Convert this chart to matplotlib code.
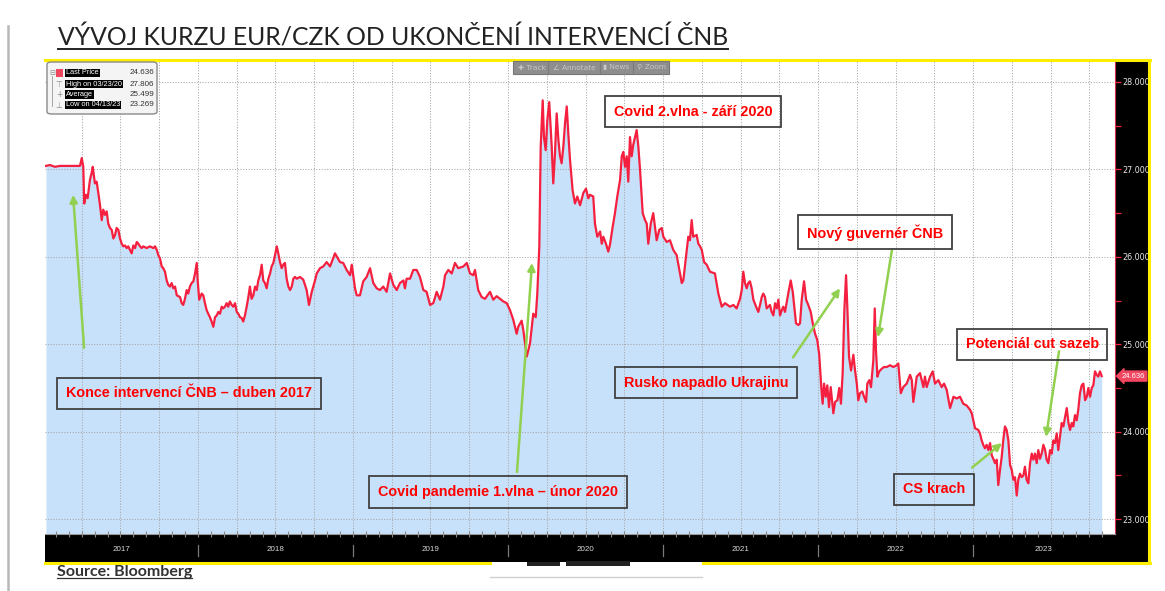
import matplotlib
matplotlib.use("Agg")
import matplotlib.pyplot as plt
import matplotlib.transforms as mtransforms
from matplotlib.patches import Rectangle, FancyBboxPatch
from matplotlib.lines import Line2D

# EUR/CZK, (decimal year, rate)
EURCZK_2017 = [
    (2017.019, 27.04), (2017.045, 27.05), (2017.077, 27.03), (2017.110, 27.04), (2017.174, 27.04),
    (2017.239, 27.04), (2017.250, 27.13), (2017.260, 27.03), (2017.266, 26.61), (2017.277, 26.71),
    (2017.288, 26.67), (2017.303, 26.88), (2017.314, 26.96), (2017.321, 27.03), (2017.329, 26.92),
    (2017.335, 26.84), (2017.346, 26.86), (2017.357, 26.73), (2017.368, 26.59), (2017.379, 26.42),
    (2017.389, 26.54), (2017.400, 26.48), (2017.411, 26.52), (2017.421, 26.38), (2017.432, 26.33),
    (2017.443, 26.31), (2017.454, 26.21), (2017.465, 26.25), (2017.475, 26.33), (2017.486, 26.31),
    (2017.497, 26.21), (2017.508, 26.15), (2017.518, 26.12), (2017.529, 26.13), (2017.540, 26.10),
    (2017.550, 26.12), (2017.561, 26.08), (2017.572, 26.04), (2017.583, 26.13), (2017.594, 26.10),
    (2017.605, 26.17), (2017.615, 26.15), (2017.626, 26.12), (2017.637, 26.10), (2017.647, 26.12),
    (2017.658, 26.11), (2017.669, 26.10), (2017.690, 26.12), (2017.712, 26.10), (2017.723, 26.12),
    (2017.734, 26.08), (2017.744, 26.02), (2017.755, 25.98), (2017.766, 25.89), (2017.776, 25.87),
    (2017.787, 25.83), (2017.798, 25.73), (2017.808, 25.68), (2017.819, 25.66), (2017.830, 25.70),
    (2017.841, 25.64), (2017.852, 25.66), (2017.863, 25.56), (2017.884, 25.54), (2017.895, 25.47),
    (2017.905, 25.45), (2017.916, 25.52), (2017.927, 25.62), (2017.937, 25.58), (2017.948, 25.66),
    (2017.959, 25.70), (2017.970, 25.72), (2017.981, 25.81), (2017.992, 25.93), (2017.998, 25.73),
]
EURCZK_2018 = [
    (2018.008, 25.51), (2018.024, 25.58), (2018.034, 25.56), (2018.045, 25.47), (2018.056, 25.39),
    (2018.066, 25.35), (2018.077, 25.31), (2018.088, 25.26), (2018.099, 25.20), (2018.110, 25.31),
    (2018.121, 25.33), (2018.131, 25.37), (2018.142, 25.35), (2018.153, 25.43), (2018.163, 25.41),
    (2018.174, 25.43), (2018.185, 25.47), (2018.195, 25.43), (2018.206, 25.49), (2018.217, 25.45),
    (2018.228, 25.43), (2018.239, 25.47), (2018.250, 25.37), (2018.260, 25.35), (2018.271, 25.31),
    (2018.282, 25.30), (2018.292, 25.26), (2018.303, 25.33), (2018.314, 25.43), (2018.325, 25.54),
    (2018.335, 25.66), (2018.346, 25.52), (2018.357, 25.56), (2018.368, 25.66), (2018.379, 25.62),
    (2018.389, 25.73), (2018.400, 25.79), (2018.411, 25.91), (2018.421, 25.73), (2018.432, 25.70),
    (2018.443, 25.64), (2018.454, 25.75), (2018.465, 25.81), (2018.475, 25.89), (2018.486, 25.93),
    (2018.497, 26.02), (2018.508, 26.12), (2018.518, 26.04), (2018.529, 25.94), (2018.540, 25.87),
    (2018.550, 25.91), (2018.561, 25.93), (2018.572, 25.75), (2018.583, 25.66), (2018.594, 25.62),
    (2018.605, 25.66), (2018.615, 25.75), (2018.626, 25.77), (2018.637, 25.75), (2018.647, 25.76),
    (2018.658, 25.77), (2018.679, 25.74), (2018.701, 25.62), (2018.716, 25.45), (2018.734, 25.60),
    (2018.755, 25.73), (2018.766, 25.81), (2018.787, 25.87), (2018.808, 25.89), (2018.830, 25.94),
    (2018.852, 25.89), (2018.884, 26.04), (2018.916, 25.94), (2018.937, 25.93), (2018.959, 25.85),
    (2018.981, 25.79), (2018.992, 25.91),
]
EURCZK_2019 = [
    (2019.013, 25.64), (2019.024, 25.56), (2019.045, 25.56), (2019.066, 25.72), (2019.088, 25.77),
    (2019.110, 25.87), (2019.131, 25.70), (2019.153, 25.64), (2019.174, 25.62), (2019.195, 25.66),
    (2019.217, 25.60), (2019.239, 25.81), (2019.260, 25.68), (2019.282, 25.62), (2019.303, 25.70),
    (2019.325, 25.73), (2019.335, 25.64), (2019.346, 25.75), (2019.368, 25.75), (2019.389, 25.85),
    (2019.411, 25.85), (2019.432, 25.77), (2019.454, 25.62), (2019.475, 25.60), (2019.497, 25.45),
    (2019.518, 25.47), (2019.540, 25.60), (2019.561, 25.51), (2019.583, 25.66), (2019.594, 25.79),
    (2019.615, 25.85), (2019.637, 25.81), (2019.658, 25.93), (2019.679, 25.87), (2019.712, 25.89),
    (2019.734, 25.93), (2019.755, 25.81), (2019.776, 25.79), (2019.787, 25.85), (2019.808, 25.62),
    (2019.830, 25.54), (2019.852, 25.52), (2019.884, 25.60), (2019.905, 25.51), (2019.927, 25.55),
    (2019.948, 25.52), (2019.970, 25.49), (2019.992, 25.47),
]
EURCZK_2020 = [
    (2020.013, 25.39), (2020.034, 25.28), (2020.056, 25.12), (2020.066, 25.20), (2020.088, 25.27),
    (2020.099, 25.16), (2020.121, 24.86), (2020.142, 25.01), (2020.163, 25.35), (2020.179, 25.31),
    (2020.189, 25.58), (2020.202, 26.12), (2020.211, 27.26), (2020.224, 27.79), (2020.232, 27.37),
    (2020.243, 27.22), (2020.254, 27.57), (2020.266, 27.77), (2020.282, 27.26), (2020.292, 26.84),
    (2020.303, 27.18), (2020.314, 27.64), (2020.325, 27.34), (2020.335, 27.16), (2020.346, 27.07),
    (2020.357, 27.26), (2020.368, 27.53), (2020.379, 27.72), (2020.389, 27.41), (2020.400, 27.11),
    (2020.417, 26.76), (2020.432, 26.61), (2020.447, 26.69), (2020.465, 26.59), (2020.486, 26.73),
    (2020.503, 26.78), (2020.518, 26.67), (2020.529, 26.71), (2020.550, 26.69), (2020.561, 26.38),
    (2020.576, 26.23), (2020.594, 26.29), (2020.605, 26.15), (2020.615, 26.23), (2020.632, 26.15),
    (2020.647, 26.06), (2020.658, 26.14), (2020.675, 26.34), (2020.690, 26.50), (2020.705, 26.69),
    (2020.723, 26.88), (2020.734, 27.15), (2020.744, 27.20), (2020.755, 27.03), (2020.766, 27.15),
    (2020.776, 26.86), (2020.787, 27.37), (2020.798, 27.15), (2020.808, 27.28), (2020.830, 27.45),
    (2020.841, 27.26), (2020.852, 26.99), (2020.869, 26.50), (2020.884, 26.42), (2020.895, 26.38),
    (2020.905, 26.15), (2020.921, 26.38), (2020.937, 26.50), (2020.948, 26.34), (2020.959, 26.19),
    (2020.976, 26.31), (2020.992, 26.33),
]
EURCZK_2021 = [
    (2021.002, 26.23), (2021.024, 26.17), (2021.045, 26.19), (2021.066, 26.08), (2021.088, 26.02),
    (2021.110, 25.81), (2021.121, 25.70), (2021.131, 25.73), (2021.148, 26.00), (2021.163, 26.23),
    (2021.174, 26.19), (2021.185, 26.42), (2021.195, 26.23), (2021.217, 26.25), (2021.228, 26.15),
    (2021.239, 26.12), (2021.250, 26.08), (2021.265, 25.94), (2021.282, 25.91), (2021.303, 25.83),
    (2021.335, 25.81), (2021.357, 25.58), (2021.379, 25.43), (2021.400, 25.47), (2021.432, 25.43),
    (2021.454, 25.45), (2021.475, 25.41), (2021.497, 25.52), (2021.508, 25.62), (2021.518, 25.83),
    (2021.529, 25.70), (2021.540, 25.64), (2021.550, 25.70), (2021.561, 25.72), (2021.572, 25.64),
    (2021.583, 25.51), (2021.605, 25.41), (2021.615, 25.37), (2021.626, 25.45), (2021.637, 25.54),
    (2021.647, 25.58), (2021.658, 25.54), (2021.669, 25.41), (2021.690, 25.45), (2021.701, 25.37),
    (2021.712, 25.33), (2021.723, 25.47), (2021.734, 25.41), (2021.744, 25.51), (2021.755, 25.33),
    (2021.766, 25.39), (2021.776, 25.43), (2021.787, 25.37), (2021.808, 25.58), (2021.824, 25.73),
    (2021.837, 25.60), (2021.847, 25.43), (2021.858, 25.24), (2021.873, 25.22), (2021.884, 25.24),
    (2021.895, 25.51), (2021.910, 25.72), (2021.923, 25.51), (2021.937, 25.45), (2021.953, 25.37),
    (2021.966, 25.24), (2021.981, 25.12), (2021.995, 25.05),
]
EURCZK_2022 = [
    (2022.008, 24.88), (2022.021, 24.51), (2022.030, 24.32), (2022.039, 24.55), (2022.050, 24.40),
    (2022.060, 24.53), (2022.071, 24.28), (2022.082, 24.51), (2022.099, 24.21), (2022.110, 24.34),
    (2022.125, 24.36), (2022.137, 24.50), (2022.148, 24.32), (2022.159, 24.67), (2022.170, 25.39),
    (2022.181, 25.79), (2022.189, 25.43), (2022.200, 24.86), (2022.213, 24.70), (2022.228, 24.88),
    (2022.239, 24.70), (2022.250, 24.55), (2022.260, 24.36), (2022.271, 24.44), (2022.286, 24.46),
    (2022.297, 24.40), (2022.310, 24.34), (2022.318, 24.55), (2022.331, 24.59), (2022.342, 24.51),
    (2022.357, 24.82), (2022.366, 25.41), (2022.374, 24.93), (2022.383, 24.63), (2022.395, 24.69),
    (2022.411, 24.72), (2022.426, 24.74), (2022.443, 24.74), (2022.465, 24.76), (2022.486, 24.74),
    (2022.508, 24.76), (2022.518, 24.78), (2022.534, 24.44), (2022.550, 24.51), (2022.572, 24.55),
    (2022.594, 24.65), (2022.605, 24.59), (2022.615, 24.34), (2022.626, 24.48), (2022.637, 24.63),
    (2022.658, 24.67), (2022.680, 24.51), (2022.690, 24.63), (2022.701, 24.51), (2022.723, 24.63),
    (2022.740, 24.69), (2022.755, 24.55), (2022.776, 24.59), (2022.798, 24.51), (2022.813, 24.55),
    (2022.830, 24.48), (2022.852, 24.27), (2022.874, 24.40), (2022.895, 24.38), (2022.916, 24.40),
    (2022.937, 24.32), (2022.959, 24.30), (2022.981, 24.25), (2022.992, 24.21),
]
EURCZK_2023 = [
    (2023.002, 24.13), (2023.013, 24.04), (2023.034, 24.02), (2023.045, 23.98), (2023.056, 23.90),
    (2023.066, 23.85), (2023.077, 23.81), (2023.088, 23.85), (2023.099, 23.79), (2023.110, 23.87),
    (2023.121, 23.73), (2023.131, 23.69), (2023.142, 23.64), (2023.153, 23.68), (2023.163, 23.39),
    (2023.174, 23.56), (2023.185, 23.71), (2023.195, 23.90), (2023.206, 24.06), (2023.217, 24.02),
    (2023.228, 23.90), (2023.239, 23.62), (2023.250, 23.56), (2023.260, 23.45), (2023.271, 23.48),
    (2023.282, 23.27), (2023.292, 23.45), (2023.303, 23.52), (2023.314, 23.48), (2023.325, 23.50),
    (2023.335, 23.60), (2023.346, 23.45), (2023.357, 23.41), (2023.368, 23.64), (2023.379, 23.75),
    (2023.389, 23.68), (2023.400, 23.75), (2023.411, 23.64), (2023.421, 23.79), (2023.432, 23.69),
    (2023.443, 23.75), (2023.454, 23.85), (2023.465, 23.79), (2023.475, 23.68), (2023.486, 23.64),
    (2023.497, 23.79), (2023.508, 23.75), (2023.518, 23.90), (2023.529, 23.87), (2023.540, 23.98),
    (2023.550, 23.79), (2023.561, 23.94), (2023.572, 24.10), (2023.583, 24.06), (2023.594, 24.17),
    (2023.605, 24.27), (2023.615, 24.11), (2023.626, 24.02), (2023.637, 24.10), (2023.647, 24.06),
    (2023.658, 24.19), (2023.669, 24.13), (2023.679, 24.25), (2023.690, 24.44), (2023.701, 24.53),
    (2023.712, 24.55), (2023.723, 24.36), (2023.734, 24.40), (2023.744, 24.50), (2023.755, 24.40),
    (2023.766, 24.50), (2023.776, 24.53), (2023.787, 24.69), (2023.798, 24.65), (2023.808, 24.63),
    (2023.819, 24.69), (2023.830, 24.636),
]

YEARS = [2017, 2018, 2019, 2020, 2021, 2022, 2023]
Y_TICKS = [23, 24, 25, 26, 27, 28]

LEGEND_LABELS = ["Last Price", "High on 03/23/20", "Average", "Low on 04/13/23"]
LEGEND_VALUES = ["24.636", "27.806", "25.499", "23.269"]
LAST_PRICE = 24.636

NOTE_TEXTS = ["Konce intervencí ČNB – duben 2017", "Covid pandemie 1.vlna – únor 2020",
              "Covid 2.vlna - září 2020", "Nový guvernér ČNB", "Rusko napadlo Ukrajinu",
              "Potenciál cut sazeb", "CS krach"]
NOTE_POS = [(2017.942, 24.44), (2019.935, 23.31), (2021.194, 27.66), (2022.368, 26.28),
            (2021.277, 24.56), (2023.381, 25.00), (2022.748, 23.34)]
ARROW_FROM = [(2017.265, 24.96), (2020.058, 23.54), (2021.839, 24.85), (2022.477, 26.08),
              (2023.555, 24.92), (2022.994, 23.59)]
ARROW_TO = [(2017.194, 26.71), (2020.155, 25.93), (2022.142, 25.64), (2022.387, 25.08),
            (2023.471, 23.94), (2023.187, 23.87)]

TITLE = "VÝVOJ KURZU EUR/CZK OD UKONČENÍ INTERVENCÍ ČNB"
SOURCE = "Source: Bloomberg"

W, H = 1165, 591
RED = "#F5203F"
FILL = "#C8E1FA"
GREEN = "#92D050"
YELLOW = "#FFEE00"
NARROW = ["Liberation Sans Narrow", "Liberation Sans", "DejaVu Sans"]


def fx(px):
    return px / W


def fy(py):
    return 1 - py / H


series = EURCZK_2017 + EURCZK_2018 + EURCZK_2019 + EURCZK_2020 + EURCZK_2021 + EURCZK_2022 + EURCZK_2023
t = [p[0] for p in series]
v = [p[1] for p in series]

fig = plt.figure(figsize=(W / 100, H / 100), dpi=100)
fig.patch.set_facecolor("white")

# black bloomberg frame (right value axis + bottom year band)
fig.add_artist(Rectangle((fx(1115), fy(562)), fx(1148) - fx(1115), fy(60) - fy(562),
                         transform=fig.transFigure, fc="black", ec="none", zorder=-2))
fig.add_artist(Rectangle((fx(45), fy(562)), fx(1148) - fx(45), fy(534) - fy(562),
                         transform=fig.transFigure, fc="black", ec="none", zorder=-2))

ax = fig.add_axes([fx(45), fy(534), fx(1115) - fx(45), fy(61) - fy(534)])
x0, x1 = 2017.013, 2023.916
y0, y1 = 22.83, 28.24

ax.fill_between(t, v, 22.0, color=FILL, lw=0, zorder=1)
ax.plot(t, v, color=RED, lw=1.6, zorder=3, solid_joinstyle="round")

# grid above the fill
ax.set_axisbelow(False)
quarters = [y + q / 4 for y in YEARS + [2024] for q in range(4)]
quarters = [q for q in quarters if x0 < q < x1]
ax.set_xticks(quarters)
ax.set_xticks([y + m / 12 for y in YEARS for m in range(12) if x0 < y + m / 12 < x1], minor=True)
ax.xaxis.remove_overlapping_locs = False
ax.tick_params(axis="x", which="major", length=0, labelbottom=False)
ax.tick_params(axis="x", which="minor", direction="inout", length=4, color="#8a8a8a", width=0.8)
ax.grid(True, which="major", ls=(0, (1, 1.6)), color="#a6a6a6", lw=0.75)

ax.yaxis.tick_right()
ax.set_yticks(Y_TICKS)
ax.set_yticks([y + 0.5 for y in Y_TICKS[:-1]], minor=True)
ax.set_yticklabels(["%.3f" % y for y in Y_TICKS])
ax.tick_params(axis="y", which="both", colors=RED, direction="out", length=4, width=0.9)
ax.tick_params(axis="y", which="major", labelcolor="#e6e6e6", labelsize=5.8, pad=1.5)

# limits last, the tick setters can widen them
ax.set_xlim(x0, x1)
ax.set_ylim(y0, y1)

for s in ["left", "top"]:
    ax.spines[s].set_visible(False)
ax.spines["right"].set_color("#D0324E")
ax.spines["bottom"].set_color("#9a9a9a")

# year labels and separators in the black band
band = mtransforms.blended_transform_factory(ax.transData, ax.transAxes)
for y in YEARS:
    mid = (max(y, x0) + min(y + 1, x1)) / 2
    ax.text(mid, -0.033, str(y), transform=band, ha="center", va="center",
            fontsize=5.8, color="#d8d8d8", family=NARROW)
    if y > 2017:
        ax.plot([y, y], [-0.023, -0.047], transform=band, color="#7a7a7a", lw=0.9, clip_on=False)

# last price tag
ax.annotate("%.3f" % LAST_PRICE, xy=(1.0, LAST_PRICE), xycoords=("axes fraction", "data"),
            xytext=(5, 0), textcoords="offset points", ha="left", va="center",
            fontsize=5.5, color="white", family=NARROW,
            bbox=dict(boxstyle="larrow,pad=0.2", fc="#F0465F", ec="#F0465F"), annotation_clip=False)

# green arrows and red notes
for a, b in zip(ARROW_FROM, ARROW_TO):
    ax.annotate("", xy=b, xytext=a,
                arrowprops=dict(arrowstyle="-|>", color=GREEN, lw=1.8, mutation_scale=11,
                                shrinkA=0, shrinkB=0), zorder=5)
for txt, pos in zip(NOTE_TEXTS, NOTE_POS):
    ax.text(pos[0], pos[1], txt, ha="center", va="center", fontsize=10.4, weight="bold",
            color="#FF0000", family=NARROW, zorder=6,
            bbox=dict(boxstyle="square,pad=0.6", fc="none", ec="#404040", lw=1.3))

# legend box (top left)
fig.add_artist(FancyBboxPatch((fx(47), fy(114)), fx(157) - fx(47), fy(62) - fy(114),
                              boxstyle="round,pad=0,rounding_size=0.004", transform=fig.transFigure,
                              fc="#f4f4f4", ec="#8a8a8a", lw=1, zorder=5))
rows = [73, 84, 94.5, 105]
fig.add_artist(Line2D([fx(52), fx(52)], [fy(76), fy(106)], color="#9a9a9a", lw=0.6, zorder=6))
fig.add_artist(Rectangle((fx(56), fy(77)), fx(63) - fx(56), fy(69) - fy(77),
                         transform=fig.transFigure, fc="#F0465F", ec="none", zorder=6))
fig.text(fx(52), fy(73), "⊟", fontsize=5, color="#8a8a8a", ha="center", va="center", zorder=6)
for r, sym in zip(rows[1:], ["⊤", "+", "⊥"]):
    fig.text(fx(59), fy(r), sym, fontsize=5.5, color="#8a8a8a", ha="center", va="center", zorder=6)
for r, lab, val in zip(rows, LEGEND_LABELS, LEGEND_VALUES):
    fig.text(fx(66), fy(r), lab, fontsize=5.3, color="white", family=NARROW, va="center", zorder=7,
             bbox=dict(boxstyle="square,pad=0.12", fc="black", ec="none"))
    fig.text(fx(154), fy(r), val, fontsize=5.8, color="#333333", family=NARROW, va="center",
             ha="right", zorder=7)

# bloomberg toolbar
fig.add_artist(Rectangle((fx(513), fy(74)), fx(669) - fx(513), fy(61) - fy(74),
                         transform=fig.transFigure, fc="#8e8e8e", ec="#767676", lw=0.8, zorder=5))
for xp, lab in zip([518, 553, 603, 637], ["✚ Track", "∠ Annotate", "▮ News", "⚲ Zoom"]):
    fig.text(fx(xp), fy(67.5), lab, fontsize=5.3, color="#c8c8c8", va="center", zorder=6)
for xp in [548, 600, 633]:
    fig.add_artist(Line2D([fx(xp)] * 2, [fy(62), fy(73)], color="#7a7a7a", lw=0.8, zorder=6))

# yellow border
fig.add_artist(Line2D([fx(45), fx(1150)], [fy(60)] * 2, color=YELLOW, lw=2.2))
fig.add_artist(Line2D([fx(1149)] * 2, [fy(60), fy(563)], color=YELLOW, lw=2.2))
fig.add_artist(Line2D([fx(45), fx(490)], [fy(563)] * 2, color=YELLOW, lw=2.2))
fig.add_artist(Line2D([fx(703), fx(1150)], [fy(563)] * 2, color=YELLOW, lw=2.2))

# bits of the pasted page around the chart
fig.add_artist(Line2D([fx(8)] * 2, [fy(26), fy(591)], color="#b8b8b8", lw=1.8))
fig.add_artist(Line2D([fx(490), fx(702)], [fy(577)] * 2, color="#d0d0d0", lw=1))
fig.add_artist(Rectangle((fx(527), fy(566)), fx(560) - fx(527), fy(562) - fy(566),
                         transform=fig.transFigure, fc="#222222", ec="none"))
fig.add_artist(Rectangle((fx(566), fy(566)), fx(630) - fx(566), fy(561) - fy(566),
                         transform=fig.transFigure, fc="#222222", ec="none"))

# title and source, underlined
title = fig.text(fx(58), fy(38), TITLE, fontsize=17.8, family="Lato", color="#222222", va="center")
source = fig.text(fx(57), fy(572), SOURCE, fontsize=11.5, family="Lato", weight="bold",
                  color="#333333", va="center")
fig.canvas.draw()
r = fig.canvas.get_renderer()
for txt, lw in [(title, 1.4), (source, 0.9)]:
    bb = txt.get_window_extent(r)
    fig.add_artist(Line2D([bb.x0 / W, bb.x1 / W], [(bb.y0 + 1) / H] * 2, color=txt.get_color(), lw=lw))

fig.savefig("out.png", dpi=100)
